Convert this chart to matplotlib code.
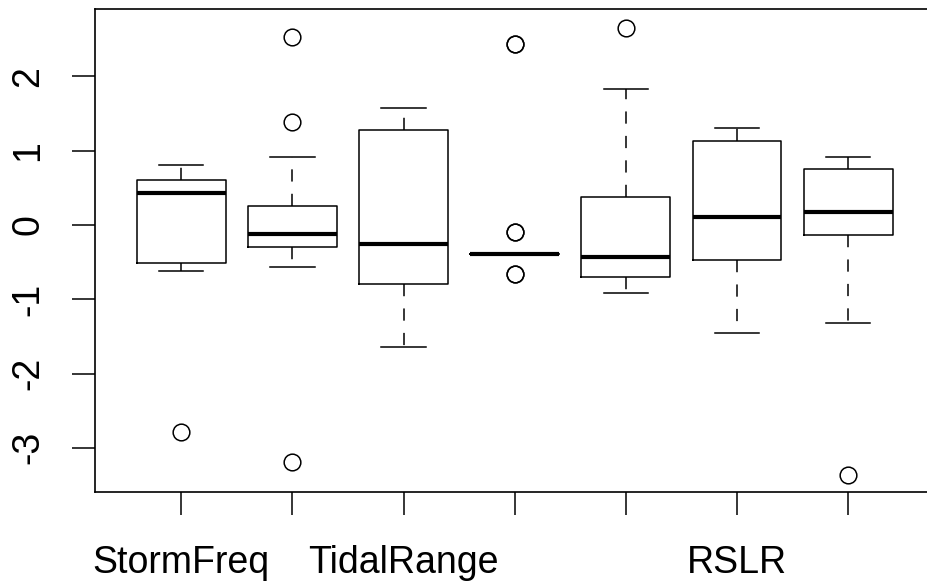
import matplotlib
matplotlib.use("Agg")
import matplotlib.pyplot as plt

# summary statistics
positions = [1, 2, 3, 4, 5, 6, 7]
tick_labels = ["StormFreq", "", "TidalRange", "", "", "RSLR", ""]
whislo = [-0.615, -0.57, -1.64, -0.39, -0.92, -1.46, -1.32]
q1 = [-0.507, -0.30, -0.80, -0.39, -0.70, -0.47, -0.135]
med = [0.427, -0.125, -0.26, -0.39, -0.43, 0.11, 0.17]
q3 = [0.606, 0.26, 1.28, -0.39, 0.37, 1.135, 0.75]
whishi = [0.81, 0.91, 1.57, -0.39, 1.83, 1.30, 0.92]
fliers = [
    [-2.78],
    [2.53, 1.38, -3.19],
    [],
    [2.44, 2.44, -0.10, -0.10, -0.66, -0.66],
    [2.65],
    [],
    [-3.36],
]

plt.rcParams["font.family"] = ["Liberation Sans", "DejaVu Sans"]

fig = plt.figure(figsize=(9.28, 5.83), dpi=100)
ax = fig.add_axes([94.5 / 928, 91 / 583, 840.4 / 928, 483 / 583])

stats = [
    dict(whislo=whislo[i], q1=q1[i], med=med[i], q3=q3[i], whishi=whishi[i], fliers=fliers[i])
    for i in range(len(positions))
]
ax.bxp(
    stats,
    positions=positions,
    widths=0.8,
    showfliers=True,
    boxprops=dict(color="black", linewidth=1.1),
    medianprops=dict(color="black", linewidth=3.0, solid_capstyle="butt"),
    whiskerprops=dict(color="black", linewidth=1.1, linestyle=(0, (8, 8))),
    capprops=dict(color="black", linewidth=1.1),
    capwidths=0.4,
    flierprops=dict(marker="o", markersize=12, markerfacecolor="none",
                    markeredgecolor="black", markeredgewidth=1.1, linestyle="none"),
)

ax.set_xlim(0.22, 7.78)
ax.set_ylim(-3.594, 2.907)
ax.set_xticks(positions)
ax.set_xticklabels(tick_labels)
ax.set_yticks([-3, -2, -1, 0, 1, 2])
ax.set_yticklabels(["-3", "-2", "-1", "0", "1", "2"])
ax.tick_params(axis="both", length=16.5, width=1.1, labelsize=27, colors="black")
ax.tick_params(axis="x", pad=22)
ax.tick_params(axis="y", pad=18, labelrotation=90)
for lab in ax.get_yticklabels():
    lab.set_va("center")
for sp in ax.spines.values():
    sp.set_linewidth(1.2)

fig.savefig("out.png", dpi=100)
